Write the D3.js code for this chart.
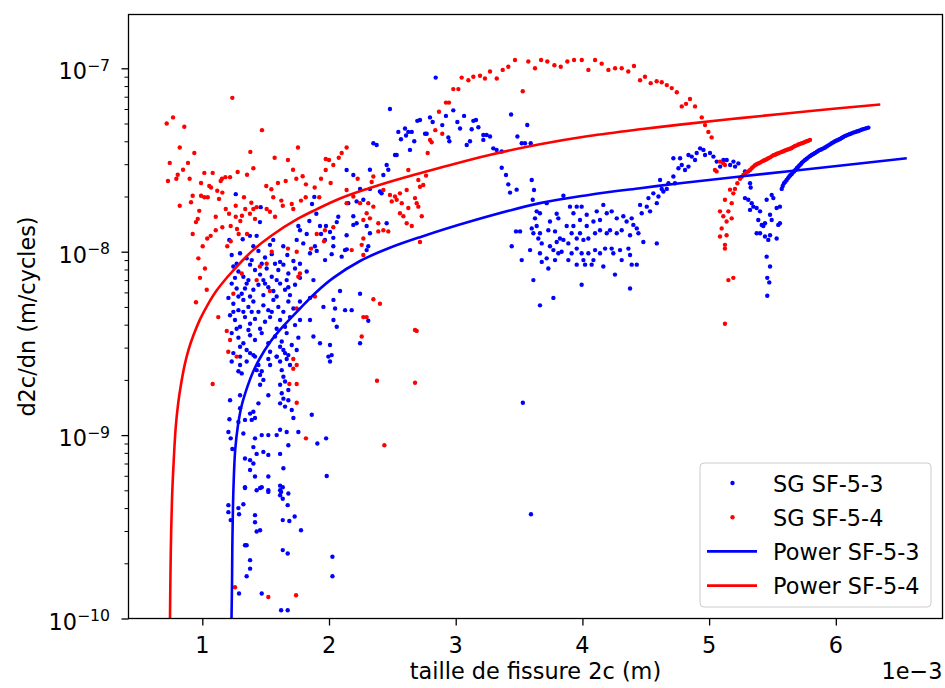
<!DOCTYPE html>
<html><head><meta charset="utf-8">
<script src="https://cdn.jsdelivr.net/npm/d3@7"></script>
<style>body{margin:0;background:#fff}svg{display:block}text{font-family:"DejaVu Sans",sans-serif;fill:#000}</style>
</head><body><svg id="chart" width="945" height="688"></svg>
<script>
// x values are in units of 1e-3 m (axis offset label "1e−3"), y values in m/cycles
const X_UNIT_LABEL = "1e\u22123";
const xTicks = [1, 2, 3, 4, 5, 6];
const yMajorTicks = [1e-10, 1e-9, 1e-8, 1e-7];
const yTickExponents = ["\u221210", "\u22129", "\u22128", "\u22127"];
const seriesNames = ["SG SF-5-3", "SG SF-5-4", "Power SF-5-3", "Power SF-5-4"];
const xLabel = "taille de fissure 2c (m)";
const yLabel = "d2c/dn (m/cycles)";

const sgSF53 = [
[1.264,2.06e-8],[1.461,1.75e-8],[1.455,1.45e-8],[1.884,1.99e-8],[1.866,1.82e-8],[1.9,1.61e-8],[1.845,1.47e-8],[1.929,1.38e-8],[1.976,1.38e-8],[2.061,1.45e-8],[2.073,1.55e-8],[1.758,1.38e-8],[1.771,1.31e-8],[1.824,1.25e-8],[1.937,1.25e-8],[2.008,1.28e-8],[2.034,1.19e-8],[1.968,1.16e-8],[1.376,1.22e-8],[1.429,1.22e-8],[1.319,1.17e-8],[1.213,1.16e-8],[1.56,1.16e-8],[1.534,1.09e-8],[1.639,1.07e-8],[1.745,1.16e-8],[1.797,1.11e-8],[1.889,1.07e-8],[2.034,1.07e-8],[1.403,1.07e-8],
[1.232,9.6e-9],[1.298,9.8e-9],[1.350,9.2e-9],[1.390,9.0e-9],[1.443,1.01e-8],[1.495,9.3e-9],[1.548,9.7e-9],[1.614,8.8e-9],[1.671,9.6e-9],[1.719,8.9e-9],[1.850,9.8e-9],[1.903,1.01e-8],[1.969,9.0e-9],[2.021,9.7e-9],[2.100,9.4e-9],[2.14,1.03e-8],[1.271,8.6e-9],[1.469,8.6e-9],[1.574,8.6e-9],[1.771,8.6e-9],
[1.245,8.3e-9],[1.285,7.8e-9],[1.324,7.3e-9],[1.377,8.5e-9],[1.416,7.95e-9],[1.456,7.5e-9],[1.508,8.1e-9],[1.548,7.3e-9],[1.600,7.95e-9],[1.640,8.5e-9],[1.679,7.6e-9],[1.732,8.1e-9],[1.771,7.2e-9],[1.824,7.8e-9],[1.877,7.0e-9],[1.587,7.0e-9],[1.364,7.0e-9],[1.258,7.2e-9],[1.482,7.0e-9],[1.666,7.0e-9],
[1.232,6.7e-9],[1.271,6.3e-9],[1.311,5.9e-9],[1.350,6.7e-9],[1.403,6.2e-9],[1.443,6.6e-9],[1.482,5.8e-9],[1.521,6.4e-9],[1.561,6.1e-9],[1.614,6.7e-9],[1.653,6.2e-9],[1.692,5.8e-9],[1.732,6.6e-9],[1.377,5.7e-9],[1.285,5.7e-9],[1.587,5.7e-9],[1.679,6.4e-9],[1.495,6.7e-9],[1.337,6.3e-9],
[1.206,5.6e-9],[1.245,5.2e-9],[1.285,4.8e-9],[1.324,5.46e-9],[1.364,5.0e-9],[1.403,5.35e-9],[1.443,4.7e-9],[1.482,5.1e-9],[1.521,4.8e-9],[1.561,5.46e-9],[1.600,5.0e-9],[1.640,4.7e-9],[1.679,5.35e-9],[1.719,4.9e-9],[1.324,4.7e-9],[1.390,4.7e-9],[1.245,4.7e-9],[1.548,4.7e-9],[1.771,5.35e-9],[1.850,5.6e-9],[1.956,5.0e-9],[2.048,4.9e-9],[2.127,4.8e-9],[2.087,6.1e-9],[2.035,5.46e-9],
[1.219,4.5e-9],[1.258,4.24e-9],[1.298,3.9e-9],[1.337,4.4e-9],[1.377,4.05e-9],[1.416,4.3e-9],[1.456,3.8e-9],[1.495,4.15e-9],[1.535,4.4e-9],[1.614,4.24e-9],[1.653,3.9e-9],[1.692,4.4e-9],[1.732,3.98e-9],[1.771,4.24e-9],[1.850,4.24e-9],[2.035,4.24e-9],[2.061,3.9e-9],[1.271,3.8e-9],[1.364,3.74e-9],[1.587,3.8e-9],
[1.232,3.6e-9],[1.285,3.4e-9],[1.324,3.17e-9],[1.377,3.5e-9],[1.416,3.3e-9],[1.469,3.6e-9],[1.521,3.17e-9],[1.574,3.45e-9],[1.627,3.24e-9],[1.666,3.6e-9],[1.706,3.1e-9],[1.758,3.4e-9],[1.877,3.45e-9],[1.929,3.17e-9],[1.298,3.03e-9],[1.614,3.03e-9],
[1.245,2.8e-9],[1.298,2.68e-9],[1.350,2.91e-9],[1.403,2.73e-9],[1.535,2.85e-9],[1.587,2.68e-9],[1.640,2.91e-9],[1.679,2.73e-9],[1.745,2.91e-9],[2.008,3.1e-9],[1.995,2.68e-9],
[1.232,2.52e-9],[1.298,2.41e-9],[1.285,2.23e-9],[1.311,2.17e-9],[1.350,2.52e-9],[1.377,2.8e-9],[1.416,2.68e-9],[1.443,2.41e-9],[1.429,2.26e-9],[1.456,2.13e-9],[1.482,2.0e-9],[1.469,2.23e-9],[1.535,2.41e-9],[1.521,2.6e-9],[1.587,2.68e-9],[1.614,2.52e-9],[1.653,2.8e-9],[1.666,2.6e-9],[1.692,2.41e-9],[1.627,2.26e-9],[1.640,2.08e-9],[1.653,1.96e-9],[1.614,1.88e-9],[1.679,1.76e-9],[1.627,1.69e-9],[1.640,1.58e-9],[1.679,1.55e-9],[1.614,1.49e-9],[1.653,1.43e-9],[1.706,1.37e-9],[1.719,1.24e-9],[1.521,1.65e-9],[1.456,1.88e-9],[1.443,1.49e-9],[1.403,1.34e-9],[1.377,1.31e-9],[1.416,1.24e-9],[1.390,1.21e-9],[1.337,1.21e-9],[1.298,1.65e-9],[1.298,1.4e-9],[1.219,1.55e-9],[1.214,1.22e-9],[1.206,1.04e-9],[1.224,9.6e-10],[1.237,8.4e-10],[1.324,1.02e-9],[1.285,1.18e-9],[1.416,9.6e-10],[1.469,1.0e-9],[1.521,1.0e-9],[1.587,1.0e-9],[1.614,1.07e-9],[1.666,1.04e-9],[1.758,1.04e-9],[1.864,1.29e-9],[1.679,8.8e-10],[1.614,7.9e-10],[1.403,8.6e-10],[1.429,7.9e-10],[1.482,8.1e-10],[1.521,7.8e-10],[1.337,7.45e-10],[1.377,7.3e-10],[1.403,7.0e-10],[1.377,6.45e-10],[1.416,5.95e-10],[1.456,5.15e-10],[1.521,5.95e-10],[1.640,6.6e-10],[1.614,5.0e-10],[1.521,5.0e-10],[1.337,5.15e-10],[1.982,5.98e-10],[1.908,9.0e-10],[1.977,9.6e-10],[2.008,2.52e-9],[2.021,2.73e-9],
[1.337,5.2e-10],[1.429,5.0e-10],[1.469,5.2e-10],[1.521,4.9e-10],[1.614,5.3e-10],[1.635,5.2e-10],[1.622,4.9e-10],[1.614,4.7e-10],[1.635,4.5e-10],[1.679,4.8e-10],[1.674,4.15e-10],[1.206,4.15e-10],[1.206,3.8e-10],[1.224,3.44e-10],[1.285,4.0e-10],[1.290,3.7e-10],[1.324,4.2e-10],[1.416,3.66e-10],[1.416,3.35e-10],[1.429,2.98e-10],[1.456,3.03e-10],[1.635,3.44e-10],[1.687,3.4e-10],[1.729,3.6e-10],[1.779,3.03e-10],[1.337,2.51e-10],[1.350,2.51e-10],[1.377,2.08e-10],[1.377,1.87e-10],[1.350,1.7e-10],[1.635,2.36e-10],[1.674,2.26e-10],[2.027,2.17e-10],[2.027,1.7e-10],[1.290,1.37e-10],[1.469,1.37e-10],[1.622,1.11e-10],[1.674,1.11e-10],
[2.842,8.9e-8],[2.481,6.0e-8],[2.718,5.23e-8],[2.697,5.17e-8],[2.797,5.4e-8],[2.923,5.5e-8],[2.981,5.9e-8],[3.013,5.1e-8],[3.066,5.5e-8],[3.034,4.7e-8],[2.818,5.1e-8],[2.894,4.9e-8],[2.6,4.7e-8],[2.547,4.5e-8],[2.626,4.5e-8],[2.653,4.5e-8],[2.568,4.1e-8],[2.608,4.3e-8],[2.673,4.0e-8],[2.758,4.4e-8],[2.771,4.4e-8],[2.942,4.2e-8],[2.95,4.0e-8],[3.087,3.82e-8],[2.35,3.9e-8],[2.376,3.82e-8],[2.639,3.59e-8],[2.521,3.37e-8],[2.534,3.37e-8],[2.455,2.97e-8],[2.468,2.8e-8],[2.323,2.8e-8],[2.139,2.79e-8],[2.192,2.62e-8],[2.429,2.62e-8],[2.323,2.2e-8],[2.245,2.2e-8],[2.402,2.13e-8],[2.415,2.08e-8],[2.271,1.92e-8],[2.218,1.88e-8],[2.152,1.84e-8],[2.192,1.56e-8],[2.218,1.43e-8],[2.192,1.4e-8],[2.297,1.38e-8],[2.323,1.26e-8],[2.31,1.07e-8],[2.297,1.02e-8],[2.126,1.02e-8],[2.455,1.43e-8],[2.139,1.23e-8],
[2.245,5.9e-9],[2.179,4.8e-9],[2.31,4.2e-9],[2.245,3.17e-9],
[3.113,4.0e-8],[3.139,5.17e-8],[3.160,5.23e-8],[3.179,4.77e-8],[3.126,4.65e-8],[3.218,4.33e-8],[3.244,4.33e-8],[3.271,4.25e-8],[3.218,4.07e-8],[3.297,3.66e-8],[3.323,3.59e-8],[3.363,3.52e-8],[3.437,5.6e-8],[3.565,4.91e-8],[3.487,4.25e-8],[3.521,3.9e-8],[3.547,3.9e-8],[3.592,3.9e-8],[3.363,2.87e-8],[3.397,2.62e-8],[3.415,2.33e-8],[3.429,2.1e-8],[3.481,2.18e-8],
[3.60,2.46e-8],[3.618,2.17e-8],[3.608,1.92e-8],[3.639,1.66e-8],[3.665,1.62e-8],[3.626,1.52e-8],[3.639,1.38e-8],[3.60,1.34e-8],[3.665,1.26e-8],[3.613,1.26e-8],[3.718,1.84e-8],[3.797,1.61e-8],[3.850,2.02e-8],[3.810,1.52e-8],[3.744,1.46e-8],[3.731,1.31e-8],[3.784,1.29e-8],[3.823,1.18e-8],[3.902,1.76e-8],[3.929,1.62e-8],[3.955,1.76e-8],[3.994,1.76e-8],[4.034,1.59e-8],[3.981,1.49e-8],[3.929,1.38e-8],[3.876,1.38e-8],[3.915,1.26e-8],[3.981,1.26e-8],[4.034,1.38e-8],[4.087,1.46e-8],[4.113,1.66e-8],[4.165,1.80e-8],[4.139,1.49e-8],[4.192,1.62e-8],[4.231,1.66e-8],[4.271,1.52e-8],[4.323,1.56e-8],[4.349,1.46e-8],[4.389,1.52e-8],[4.402,1.40e-8],[4.429,1.34e-8],[4.442,1.26e-8],[4.376,1.23e-8],[4.31,1.31e-8],[4.271,1.26e-8],[4.218,1.31e-8],[4.192,1.26e-8],[4.139,1.31e-8],[4.1,1.26e-8],[4.047,1.18e-8],[4.008,1.16e-8],[3.955,1.18e-8],[3.889,1.11e-8],[3.850,1.16e-8],[3.797,1.13e-8],[3.744,1.07e-8],[3.679,1.11e-8],[3.652,1.18e-8],[3.587,1.02e-8],[3.508,1.29e-8],[3.476,1.29e-8],[3.442,1.07e-8],[3.521,9.0e-9],[3.665,9.8e-9],[3.679,8.8e-9],[3.718,9.2e-9],[3.731,8.1e-9],[3.771,1.02e-8],[3.810,9.8e-9],[3.784,9.0e-9],[3.836,1.0e-8],[3.889,9.0e-9],[3.915,9.8e-9],[3.955,1.04e-8],[3.994,9.8e-9],[4.008,9.0e-9],[4.047,9.8e-9],[4.1,1.02e-8],[4.087,9.0e-9],[4.139,9.8e-9],[4.179,1.04e-8],[4.165,8.3e-9],[4.231,1.04e-8],[4.244,9.8e-9],[4.297,1.02e-8],[4.31,9.0e-9],[4.363,1.04e-8],[4.376,9.6e-9],[4.389,8.5e-9],[4.429,8.5e-9],[4.481,1.13e-8],[4.587,1.11e-8],[4.021,8.5e-9],[4.073,8.5e-9],[3.955,8.5e-9],[3.613,7.0e-9],[3.771,5.6e-9],[3.665,5.1e-9],[3.994,6.6e-9],[4.257,7.5e-9],[4.376,6.3e-9],
[4.455,1.80e-8],[4.468,1.62e-8],[4.508,1.76e-8],[4.521,1.96e-8],[4.534,1.66e-8],[4.560,2.08e-8],[4.587,1.84e-8],[4.6,2.0e-8],[4.613,2.46e-8],[4.626,2.2e-8],[4.639,2.13e-8],[4.666,2.2e-8],[4.679,2.36e-8],[4.718,2.57e-8],[4.731,2.36e-8],[4.758,2.85e-8],[4.718,3.23e-8],[4.771,3.23e-8],[4.784,2.97e-8],[4.81,2.79e-8],[4.837,2.91e-8],[4.837,3.37e-8],[4.863,3.3e-8],[4.889,3.16e-8],[4.902,3.45e-8],[4.929,3.66e-8],[4.955,3.59e-8],[4.968,3.37e-8],[5.007,3.45e-8],[5.034,3.3e-8],[5.06,3.1e-8],[5.087,2.91e-8],[5.113,3.16e-8],[5.139,3.16e-8],[5.166,2.97e-8],[5.192,3.1e-8],[5.205,2.91e-8],[5.231,3.03e-8],
[5.283,2.74e-8],[5.323,2.36e-8],[5.328,2.24e-8],[5.283,1.96e-8],[5.309,1.92e-8],[5.336,1.84e-8],[5.349,1.76e-8],[5.323,1.69e-8],[5.375,1.73e-8],[5.402,1.66e-8],[5.388,1.49e-8],[5.415,1.40e-8],[5.441,1.43e-8],[5.428,1.38e-8],[5.375,1.26e-8],[5.402,1.26e-8],[5.441,1.21e-8],[5.467,1.16e-8],[5.481,1.23e-8],[5.454,1.92e-8],[5.494,2.04e-8],[5.507,1.96e-8],[5.533,1.73e-8],[5.559,1.76e-8],[5.481,1.59e-8],[5.494,1.49e-8],[5.546,1.40e-8],[5.559,1.43e-8],[5.533,1.18e-8],[5.454,9.4e-9],[5.481,8.3e-9],[5.459,7.2e-9],[5.475,6.8e-9],[5.459,5.75e-9],
[5.573,2.2e-8],[5.581,2.28e-8],[5.591,2.36e-8],[5.602,2.41e-8],[5.612,2.46e-8],[5.623,2.52e-8],[5.633,2.57e-8],[5.641,2.61e-8],[5.652,2.65e-8],[5.660,2.70e-8],[5.67,2.74e-8],[5.681,2.79e-8],[5.691,2.85e-8],[5.702,2.9e-8],[5.712,2.95e-8],[5.723,3.0e-8],[5.733,3.06e-8],[5.744,3.11e-8],[5.757,3.16e-8],[5.77,3.21e-8],[5.783,3.27e-8],[5.796,3.32e-8],[5.809,3.37e-8],[5.823,3.41e-8],[5.836,3.45e-8],[5.849,3.5e-8],[5.862,3.55e-8],[5.875,3.59e-8],[5.888,3.62e-8],[5.902,3.66e-8],[5.915,3.7e-8],[5.928,3.75e-8],[5.941,3.8e-8],[5.954,3.85e-8],[5.967,3.9e-8],[5.981,3.95e-8],[5.994,4.0e-8],[6.007,4.04e-8],[6.02,4.08e-8],[6.033,4.12e-8],[6.046,4.17e-8],[6.059,4.22e-8],[6.073,4.28e-8],[6.086,4.31e-8],[6.099,4.35e-8],[6.112,4.38e-8],[6.125,4.42e-8],[6.138,4.46e-8],[6.152,4.49e-8],[6.165,4.52e-8],[6.178,4.55e-8],[6.191,4.59e-8],[6.204,4.63e-8],[6.217,4.66e-8],[6.231,4.69e-8],[6.244,4.72e-8],[6.257,4.75e-8],
[3.53,1.5e-9],[3.594,3.7e-10]
];

const sgSF54 = [
[1.237,6.9e-8],[0.719,5.0e-8],[0.769,5.4e-8],[0.858,4.8e-8],[1.471,4.6e-8],[0.822,3.7e-8],[0.937,3.45e-8],[1.379,3.5e-8],[1.755,3.7e-8],[1.571,3.25e-8],[0.743,3.05e-8],[0.887,3.05e-8],[0.848,2.8e-8],[1.676,3.16e-8],[1.716,2.8e-8],[1.403,2.85e-8],[1.974,3.2e-8],[2.0,3.16e-8],[2.077,3.25e-8],[2.034,2.97e-8],[1.974,2.79e-8],
[0.806,2.63e-8],[1.016,2.69e-8],[1.082,2.69e-8],[1.279,2.72e-8],[1.353,2.63e-8],[0.729,2.43e-8],[0.795,2.5e-8],[0.9,2.5e-8],[0.99,2.37e-8],[1.145,2.43e-8],[1.182,2.55e-8],[1.219,2.55e-8],[1.155,2.5e-8],[1.792,2.58e-8],[1.742,2.5e-8],[1.658,2.43e-8],[1.597,2.37e-8],[1.818,2.33e-8],[1.937,2.5e-8],[2.013,2.37e-8],[1.887,2.24e-8],[1.505,2.28e-8],[1.545,2.19e-8],[1.055,2.28e-8],[1.069,2.24e-8],[1.118,2.15e-8],[1.158,2.1e-8],
[0.924,2.02e-8],[0.99,2.02e-8],[1.016,1.98e-8],[1.043,1.98e-8],[1.132,1.94e-8],[1.329,1.98e-8],[1.56,1.98e-8],[1.624,1.9e-8],[1.816,1.98e-8],[1.923,1.98e-8],[1.779,1.9e-8],[0.911,1.86e-8],[0.822,1.78e-8],[1.185,1.71e-8],[1.264,1.78e-8],[1.387,1.85e-8],[1.339,1.71e-8],[1.403,1.71e-8],[1.429,1.75e-8],[1.508,1.71e-8],[1.635,1.78e-8],[1.706,1.82e-8],[1.718,1.71e-8],[0.976,1.67e-8],[1.211,1.61e-8],[1.313,1.57e-8],[1.376,1.61e-8],[1.534,1.65e-8],[1.574,1.55e-8],
[0.95,1.45e-8],[1.106,1.55e-8],[1.264,1.55e-8],[1.3,1.47e-8],[1.416,1.51e-8],[0.964,1.51e-8],[1.224,1.38e-8],[1.274,1.33e-8],[1.158,1.36e-8],[0.924,1.25e-8],[1.066,1.22e-8],[1.106,1.31e-8],[1.287,1.25e-8],[1.353,1.25e-8],[1.003,1.07e-8],[1.039,1.18e-8],[1.197,1.07e-8],[1.224,1.14e-8],[2.034,1.36e-8],[1.903,1.25e-8],[1.968,1.31e-8],[1.676,1.04e-8],[1.961,1.14e-8],[1.858,1.04e-8],
[1.021,8.1e-9],[1.035,6.2e-9],[1.126,4.4e-9],[1.219,3.3e-9],[1.193,3.7e-9],[1.205,2.85e-9],[1.245,5.9e-9],[1.311,7.6e-9],[1.534,6.1e-9],[1.455,8.3e-9],[1.508,8.6e-9],[1.548,1.0e-8],[1.745,1.0e-8],[1.771,7.6e-9],[1.758,7.3e-9],[1.889,5.7e-9],[1.745,4.9e-9],[1.718,2.6e-9],[1.429,7.0e-9],
[0.969,9.2e-9],[0.982,7.2e-9],[0.950,5.3e-9],
[1.271,2.68e-9],[1.082,1.9e-9],[1.718,2.3e-9],[1.745,2.41e-9],[1.687,1.9e-9],[1.745,1.9e-9],[1.745,1.5e-9],[1.818,9.6e-10],
[1.258,1.48e-10],[1.521,1.31e-10],[1.740,1.34e-10],
[2.379,1.98e-9],[2.679,1.93e-9],[2.437,8.8e-10],
[2.271,4.4e-9],[2.297,4.4e-9],[2.35,5.5e-9],[2.402,5.2e-9],[2.692,3.7e-9],[2.679,3.74e-9],[2.258,3.45e-9],
[2.1,3.45e-8],[2.139,3.7e-8],[2.226,2.5e-8],[2.35,2.57e-8],[2.337,2.4e-8],[2.139,2.17e-8],[2.192,2.0e-8],[2.139,1.84e-8],[2.245,1.84e-8],[2.31,1.84e-8],[2.35,1.76e-8],[2.429,2.17e-8],[2.481,2.04e-8],[2.521,2.0e-8],[2.56,2.08e-8],[2.534,1.92e-8],[2.495,1.88e-8],[2.574,1.84e-8],[2.626,1.73e-8],[2.679,1.96e-8],[2.613,2.17e-8],[2.626,2.79e-8],[2.705,2.46e-8],[2.718,2.26e-8],[2.744,2.31e-8],[2.766,2.6e-8],[2.692,1.84e-8],[2.705,1.76e-8],[2.56,1.62e-8],[2.587,1.56e-8],[2.613,1.43e-8],[2.653,1.38e-8],[2.732,1.56e-8],[2.297,1.62e-8],[2.323,1.52e-8],[2.271,1.49e-8],[2.389,1.43e-8],[2.389,1.29e-8],[2.429,1.31e-8],[2.468,1.29e-8],[2.271,1.18e-8],[2.258,1.09e-8],[2.179,1.02e-8],[2.271,9.6e-9],[2.718,1.13e-8],
[3.047,8.9e-8],[3.1,8.6e-8],[2.981,7.7e-8],[3.021,7.7e-8],[2.923,6.5e-8],[2.947,6.5e-8],[2.868,5.8e-8],[2.839,4.6e-8],[2.894,4.4e-8],[2.797,4.07e-8],[2.81,3.95e-8],[2.779,3.45e-8],
[3.139,9.0e-8],[3.192,9.1e-8],[3.231,8.8e-8],[3.271,9.6e-8],[3.324,8.8e-8],[3.371,9.8e-8],[3.415,1.02e-7],[3.468,1.11e-7],[3.529,7.5e-8],[3.573,1.09e-7],[3.626,1.0e-7],[3.674,1.11e-7],[3.723,1.09e-7],[3.779,1.04e-7],[3.829,1.02e-7],[3.881,1.09e-7],[3.934,1.11e-7],[3.995,1.11e-7],[4.047,9.8e-8],[4.1,1.11e-7],[4.152,1.06e-7],[4.205,9.8e-8],[4.258,1.0e-7],[4.31,1.0e-7],[4.362,9.6e-8],[4.407,1.03e-7],[4.455,8.6e-8],[4.494,9.0e-8],[4.539,8.3e-8],[4.586,8.5e-8],[4.626,8.4e-8],[4.666,8.1e-8],[4.705,7.8e-8],[4.745,7.4e-8],[4.849,6.8e-8],[4.818,6.4e-8],[4.784,6.2e-8],[4.889,6.2e-8],[4.942,5.4e-8],[4.968,4.9e-8],[4.994,4.5e-8],[5.02,4.2e-8],
[5.046,2.79e-8],[5.059,2.74e-8],[5.086,3.1e-8],[5.112,3.03e-8],[5.125,2.97e-8],[5.165,2.18e-8],[5.125,1.92e-8],[5.178,1.84e-8],[5.086,1.66e-8],[5.152,1.66e-8],[5.112,1.56e-8],[5.178,1.52e-8],[5.138,1.46e-8],[5.099,1.34e-8],[5.086,1.21e-8],[5.138,1.23e-8],[5.125,1.09e-8],[5.125,1.04e-8],[5.152,7.0e-9],[5.191,7.2e-9],[5.125,4.05e-9],
[5.191,2.08e-8],[5.204,2.2e-8],[5.223,2.36e-8],[5.244,2.5e-8],[5.257,2.56e-8],[5.27,2.62e-8],[5.283,2.66e-8],[5.296,2.7e-8],[5.309,2.74e-8],[5.323,2.79e-8],[5.336,2.85e-8],[5.349,2.91e-8],[5.362,2.96e-8],[5.375,3.0e-8],[5.388,3.03e-8],[5.402,3.06e-8],[5.415,3.1e-8],[5.428,3.13e-8],[5.441,3.16e-8],[5.454,3.19e-8],[5.467,3.23e-8],[5.481,3.27e-8],[5.494,3.31e-8],[5.507,3.36e-8],[5.52,3.38e-8],[5.533,3.41e-8],[5.546,3.44e-8],[5.559,3.47e-8],[5.573,3.5e-8],[5.586,3.53e-8],[5.599,3.56e-8],[5.612,3.59e-8],[5.625,3.62e-8],[5.638,3.64e-8],[5.652,3.68e-8],[5.665,3.73e-8],[5.678,3.77e-8],[5.691,3.8e-8],[5.704,3.84e-8],[5.717,3.87e-8],[5.731,3.9e-8],[5.744,3.93e-8],[5.757,3.97e-8],[5.77,4.0e-8],[5.783,4.03e-8],[5.796,4.07e-8]
];

const powerSF53 = [[1.2305,1.0e-10],[1.2348,1.62e-10],[1.2368,2.39e-10],[1.2454,5.0e-10],[1.2596,8.3e-10],[1.2817,1.135e-9],[1.3117,1.46e-9],[1.3575,1.85e-9],[1.4001,2.21e-9],[1.4514,2.6e-9],[1.5304,3.18e-9],[1.6353,3.9e-9],[1.771,4.9e-9],[1.903,6.05e-9],[2.034,7.2e-9],[2.245,8.9e-9],[2.48,1.05e-8],[2.718,1.2e-8],[3.113,1.46e-8],[3.665,1.84e-8],[4.05,2.04e-8],[4.455,2.22e-8],[4.77,2.36e-8],[5.246,2.57e-8],[5.9,2.88e-8],[6.56,3.23e-8]];
const powerSF54 = [[0.745,1.0e-10],[0.748,1.6e-10],[0.753,2.7e-10],[0.761,4.5e-10],[0.771,6.5e-10],[0.79,1.1e-9],[0.81,1.5e-9],[0.835,1.95e-9],[0.86,2.4e-9],[0.89,2.9e-9],[0.93,3.5e-9],[0.98,4.25e-9],[1.04,5.1e-9],[1.11,6.1e-9],[1.2,7.3e-9],[1.3,8.7e-9],[1.4,1.02e-8],[1.55,1.23e-8],[1.745,1.5e-8],[1.9,1.7e-8],[2.087,1.95e-8],[2.3,2.2e-8],[2.534,2.47e-8],[2.876,2.87e-8],[3.25,3.35e-8],[3.665,3.85e-8],[4.05,4.27e-8],[4.457,4.65e-8],[4.77,4.93e-8],[5.246,5.35e-8],[5.8,5.85e-8],[6.351,6.35e-8]];

const BLUE = "#0000ff", RED = "#ff0000";
const FS = 22.4;
const L = 128.5, R = 942.5, T = 14.5, B = 618.5;

const svg = d3.select("#chart");
const x = d3.scaleLinear().domain([0.4175, 6.842]).range([L, R]);
const y = d3.scaleLog().domain([1e-10, 1.965e-7]).range([B, T]);

svg.append("defs").append("clipPath").attr("id", "clip")
  .append("rect").attr("x", L).attr("y", T).attr("width", R - L).attr("height", B - T);

const plot = svg.append("g").attr("clip-path", "url(#clip)");
function dots(data, color) {
  plot.append("g").selectAll("circle").data(data).join("circle")
    .attr("cx", d => x(d[0])).attr("cy", d => y(d[1])).attr("r", 2.2).attr("fill", color);
}
dots(sgSF53, BLUE);
dots(sgSF54, RED);
const line = d3.line().x(d => x(d[0])).y(d => y(d[1])).curve(d3.curveCatmullRom.alpha(0.5));
plot.append("path").datum(powerSF53).attr("d", line).attr("fill", "none").attr("stroke", BLUE).attr("stroke-width", 2.6);
plot.append("path").datum(powerSF54).attr("d", line).attr("fill", "none").attr("stroke", RED).attr("stroke-width", 2.6);

// axes
const xAxis = svg.append("g").attr("transform", `translate(0,${B})`)
  .call(d3.axisBottom(x).tickValues(xTicks).tickSize(7).tickFormat(""));
xAxis.select(".domain").remove();
xAxis.selectAll("line").attr("stroke", "#000").attr("stroke-width", 1.3);
svg.append("g").selectAll("text").data(xTicks).join("text")
  .attr("x", d => x(d)).attr("y", 652.5).attr("text-anchor", "middle").attr("font-size", FS).text(d => d);

const yMinor = [];
[1e-10, 1e-9, 1e-8, 1e-7].forEach(dec => { for (let k = 2; k <= 9; k++) { const v = k * dec; if (v <= 1.965e-7) yMinor.push(v); } });
const yAxisMaj = svg.append("g").attr("transform", `translate(${L},0)`)
  .call(d3.axisLeft(y).tickValues(yMajorTicks).tickSize(7).tickFormat(""));
yAxisMaj.select(".domain").remove();
yAxisMaj.selectAll("line").attr("stroke", "#000").attr("stroke-width", 1.3);
const yAxisMin = svg.append("g").attr("transform", `translate(${L},0)`)
  .call(d3.axisLeft(y).tickValues(yMinor).tickSize(4).tickFormat(""));
yAxisMin.select(".domain").remove();
yAxisMin.selectAll("line").attr("stroke", "#000").attr("stroke-width", 1);

const yl = svg.append("g").selectAll("text").data(yMajorTicks).join("text")
  .attr("x", 110).attr("y", d => y(d) + 11).attr("text-anchor", "end").attr("font-size", FS);
yl.append("tspan").text("10");
yl.append("tspan").attr("dy", -8.5).attr("font-size", FS * 0.7).text((d, i) => yTickExponents[i]);

svg.append("rect").attr("x", L).attr("y", T).attr("width", R - L).attr("height", B - T)
  .attr("fill", "none").attr("stroke", "#000").attr("stroke-width", 1.3);

svg.append("text").attr("x", (L + R) / 2).attr("y", 678.5).attr("text-anchor", "middle").attr("font-size", FS).text(xLabel);
svg.append("text").attr("x", R).attr("y", 679).attr("text-anchor", "end").attr("font-size", FS).text(X_UNIT_LABEL);
svg.append("text").attr("transform", `translate(35,${(T + B) / 2}) rotate(-90)`).attr("text-anchor", "middle").attr("font-size", FS).text(yLabel);

// legend
const lg = svg.append("g");
lg.append("rect").attr("x", 700).attr("y", 463).attr("width", 231).attr("height", 144).attr("rx", 4)
  .attr("fill", "#fff").attr("fill-opacity", 0.8).attr("stroke", "#cccccc").attr("stroke-width", 1);
const legendItems = [
  {name: seriesNames[0], color: BLUE, type: "dot"},
  {name: seriesNames[1], color: RED, type: "dot"},
  {name: seriesNames[2], color: BLUE, type: "line"},
  {name: seriesNames[3], color: RED, type: "line"}
];
legendItems.forEach((it, i) => {
  const cy = 483 + i * 34.2;
  if (it.type === "dot") lg.append("circle").attr("cx", 732.5).attr("cy", cy).attr("r", 2.2).attr("fill", it.color);
  else lg.append("line").attr("x1", 707).attr("x2", 757).attr("y1", cy).attr("y2", cy).attr("stroke", it.color).attr("stroke-width", 2.6);
  lg.append("text").attr("x", 773).attr("y", cy + 8.5).attr("font-size", FS).text(it.name);
});
</script></body></html>
